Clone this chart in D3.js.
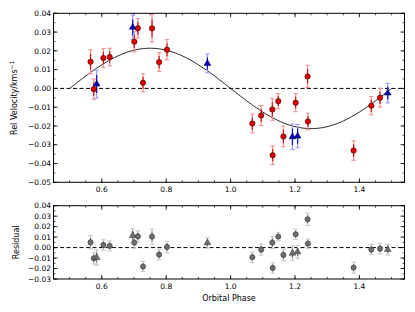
<!DOCTYPE html>
<html><head><meta charset="utf-8">
<script src="https://cdn.jsdelivr.net/npm/d3@7"></script>
<style>body{margin:0;background:#fff}svg{display:block}text{font-family:"DejaVu Sans",sans-serif}</style>
</head><body><svg id="c" width="415" height="312"></svg>
<script>
// ---- data ----
const redPhase = [0.565,0.575,0.605,0.6245,0.701,0.712,0.728,0.756,0.778,0.8025,1.0675,1.095,1.1296,1.1306,1.148,1.164,1.202,1.239,1.240,1.382,1.437,1.464];
const redVel   = [0.0142,-0.0004,0.0162,0.0167,0.0249,0.0320,0.0030,0.0320,0.0140,0.0206,-0.0187,-0.0144,-0.0112,-0.0356,-0.0068,-0.0256,-0.0076,0.0064,-0.0176,-0.0331,-0.0092,-0.0050];
const redErr   = [0.0064,0.0054,0.0050,0.0047,0.0054,0.0052,0.0048,0.0073,0.0050,0.0054,0.0050,0.0053,0.0058,0.0050,0.0040,0.0055,0.0048,0.0059,0.0044,0.0052,0.0049,0.0050];
const redRes   = [0.0051,-0.0102,0.0025,0.0016,0.0048,0.0108,-0.0181,0.0105,-0.0067,0.0006,-0.0092,-0.0019,0.0048,-0.0194,0.0105,-0.0070,0.0127,0.0270,0.0038,-0.0191,-0.0019,-0.0010];
const bluePhase = [0.584,0.696,0.928,1.192,1.208,1.488];
const blueVel   = [0.0023,0.0325,0.0133,-0.0258,-0.0254,-0.0025];
const blueErr   = [0.0074,0.0065,0.0050,0.0068,0.0062,0.0052];
const blueRes   = [-0.0095,0.0115,0.0045,-0.0054,-0.0041,-0.0019];
// model: sine fit, v = -K sin(2*pi*phase), drawn from phase 0.5 to 1.5
const modelK = 0.0214, modelStart = 0.5, modelEnd = 1.5;
const xTicks = [0.6,0.8,1.0,1.2,1.4];
const yTicksMain = [0.04,0.03,0.02,0.01,0.00,-0.01,-0.02,-0.03,-0.04,-0.05];
const yTicksRes = [0.04,0.03,0.02,0.01,0.00,-0.01,-0.02,-0.03];

const svg = d3.select("#c");
const L = 53.5, R = 404.5;
const x = d3.scaleLinear().domain([0.45,1.54]).range([L,R]);
const yM = d3.scaleLinear().domain([-0.05,0.04]).range([182.3,13.3]);
const yR = d3.scaleLinear().domain([-0.03,0.04]).range([279,205.7]);
const fmt = d3.format(".2f"), fmtX = d3.format(".1f");

function frame(y, yt, minorStep){
  const [b,t] = y.range();
  const g = svg.append("g");
  // minor x
  const xmin = d3.range(0.45,1.5401,0.05).map(v=>+v.toFixed(2));
  xmin.forEach(v=>{
    g.append("line").attr("x1",x(v)).attr("x2",x(v)).attr("y1",b).attr("y2",b-2).attr("stroke","#000").attr("stroke-width",0.7);
    g.append("line").attr("x1",x(v)).attr("x2",x(v)).attr("y1",t).attr("y2",t+2).attr("stroke","#000").attr("stroke-width",0.7);
  });
  xTicks.forEach(v=>{
    g.append("line").attr("x1",x(v)).attr("x2",x(v)).attr("y1",b).attr("y2",b-4).attr("stroke","#000").attr("stroke-width",0.8);
    g.append("line").attr("x1",x(v)).attr("x2",x(v)).attr("y1",t).attr("y2",t+4).attr("stroke","#000").attr("stroke-width",0.8);
    g.append("text").attr("x",x(v)).attr("y",b+9.5).attr("text-anchor","middle").attr("font-size",7.5).text(fmtX(v));
  });
  const [d0,d1] = y.domain();
  const ymin = d3.range(Math.round(d0/minorStep), Math.round(d1/minorStep)+1).map(i=>i*minorStep);
  ymin.forEach(v=>{
    g.append("line").attr("x1",L).attr("x2",L+2).attr("y1",y(v)).attr("y2",y(v)).attr("stroke","#000").attr("stroke-width",0.7);
    g.append("line").attr("x1",R).attr("x2",R-2).attr("y1",y(v)).attr("y2",y(v)).attr("stroke","#000").attr("stroke-width",0.7);
  });
  yt.forEach(v=>{
    g.append("line").attr("x1",L).attr("x2",L+4).attr("y1",y(v)).attr("y2",y(v)).attr("stroke","#000").attr("stroke-width",0.8);
    g.append("line").attr("x1",R).attr("x2",R-4).attr("y1",y(v)).attr("y2",y(v)).attr("stroke","#000").attr("stroke-width",0.8);
    g.append("text").attr("x",L-2.5).attr("y",y(v)+2.7).attr("text-anchor","end").attr("font-size",7.5).text(fmt(v));
  });
  // zero dashed line
  g.append("line").attr("x1",L).attr("x2",R).attr("y1",y(0)).attr("y2",y(0)).attr("stroke","#000").attr("stroke-width",1).attr("stroke-dasharray","4,2.5");
  g.append("rect").attr("x",L).attr("y",t).attr("width",R-L).attr("height",b-t).attr("fill","none").attr("stroke","#000").attr("stroke-width",1);
}

function errbar(g, px, py, e, y, outer, inner){
  g.append("line").attr("x1",x(px)).attr("x2",x(px)).attr("y1",y(py-e)).attr("y2",y(py+e)).attr("stroke",outer).attr("stroke-width",1.2);
  [py-e,py+e].forEach(v=>g.append("line").attr("x1",x(px)-2.2).attr("x2",x(px)+2.2).attr("y1",y(v)).attr("y2",y(v)).attr("stroke",outer).attr("stroke-width",1.1));
  g.append("line").attr("x1",x(px)).attr("x2",x(px)).attr("y1",y(py-e*0.65)).attr("y2",y(py+e*0.65)).attr("stroke",inner).attr("stroke-width",1.2);
}
const tri = d3.symbol().type(d3.symbolTriangle).size(20);

frame(yM, yTicksMain, 0.005);
frame(yR, yTicksRes, 0.005);

// model curve
const curvePts = d3.range(0,201).map(i=>{const p = modelStart + (modelEnd-modelStart)*i/200; return [p, -modelK*Math.sin(2*Math.PI*p)];});
svg.append("path").attr("d", d3.line().x(d=>x(d[0])).y(d=>yM(d[1]))(curvePts)).attr("fill","none").attr("stroke","#222").attr("stroke-width",1);

const gm = svg.append("g");
redPhase.forEach((p,i)=>errbar(gm,p,redVel[i],redErr[i],yM,"#f39393","#e01010"));
bluePhase.forEach((p,i)=>errbar(gm,p,blueVel[i],blueErr[i],yM,"#9a9aff","#1010d0"));
redPhase.forEach((p,i)=>gm.append("circle").attr("cx",x(p)).attr("cy",yM(redVel[i])).attr("r",2.7).attr("fill","#e00000").attr("stroke","#300").attr("stroke-width",0.6));
bluePhase.forEach((p,i)=>gm.append("path").attr("d",tri).attr("transform",`translate(${x(p)},${yM(blueVel[i])})`).attr("fill","#0000cc").attr("stroke","#001").attr("stroke-width",0.5));

const gr = svg.append("g");
redPhase.forEach((p,i)=>errbar(gr,p,redRes[i],redErr[i],yR,"#c8c8c8","#707070"));
bluePhase.forEach((p,i)=>errbar(gr,p,blueRes[i],blueErr[i],yR,"#c8c8c8","#707070"));
redPhase.forEach((p,i)=>gr.append("circle").attr("cx",x(p)).attr("cy",yR(redRes[i])).attr("r",2.6).attr("fill","#6e6e6e").attr("stroke","#333").attr("stroke-width",0.6));
bluePhase.forEach((p,i)=>gr.append("path").attr("d",tri).attr("transform",`translate(${x(p)},${yR(blueRes[i])})`).attr("fill","#6e6e6e").attr("stroke","#333").attr("stroke-width",0.5));

// axis labels
const yl = svg.append("text").attr("transform",`translate(17,${(182.3+13.3)/2}) rotate(-90)`).attr("text-anchor","middle").attr("font-size",8);
yl.append("tspan").text("Rel Velocity/kms");
yl.append("tspan").attr("dy",-3).attr("font-size",6).text("\u22121");
svg.append("text").attr("transform",`translate(19,${(279+205.7)/2}) rotate(-90)`).attr("text-anchor","middle").attr("font-size",8).text("Residual");
svg.append("text").attr("x",(L+R)/2).attr("y",301).attr("text-anchor","middle").attr("font-size",8).text("Orbital Phase");
</script></body></html>
